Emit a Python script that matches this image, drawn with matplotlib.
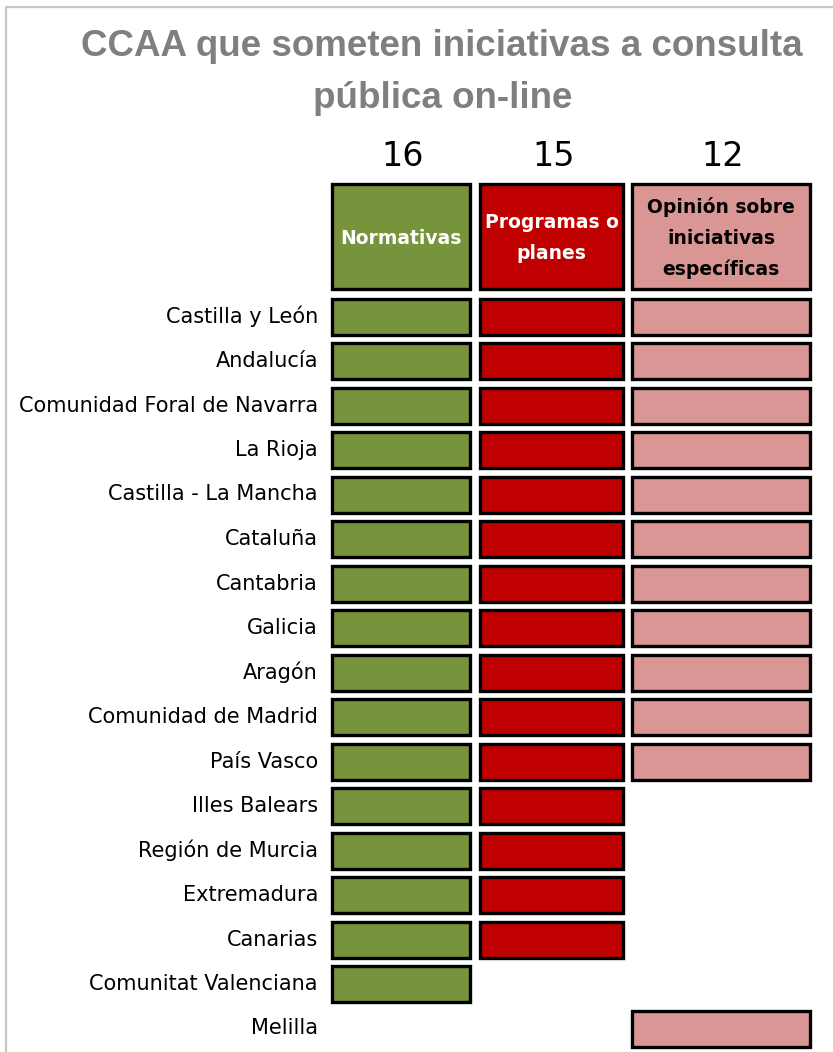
import matplotlib
matplotlib.use("Agg")
import matplotlib.pyplot as plt
from matplotlib.patches import Rectangle

plt.rcParams['font.family'] = ['DejaVu Sans']

regions = ["Castilla y León", "Andalucía", "Comunidad Foral de Navarra", "La Rioja",
           "Castilla - La Mancha", "Cataluña", "Cantabria", "Galicia", "Aragón",
           "Comunidad de Madrid", "País Vasco", "Illes Balears", "Región de Murcia",
           "Extremadura", "Canarias", "Comunitat Valenciana", "Melilla"]
normativas = [1, 1, 1, 1, 1, 1, 1, 1, 1, 1, 1, 1, 1, 1, 1, 1, 0]
programas = [1, 1, 1, 1, 1, 1, 1, 1, 1, 1, 1, 1, 1, 1, 1, 0, 0]
opinion = [1, 1, 1, 1, 1, 1, 1, 1, 1, 1, 1, 0, 0, 0, 0, 0, 1]
categories = ["Normativas", "Programas o\nplanes", "Opinión sobre\niniciativas\nespecíficas"]

series = [normativas, programas, opinion]
colors = ["#77933C", "#C00000", "#D99694"]
text_colors = ["white", "white", "black"]
col_left = [332, 480, 632]
col_width = [138, 143, 178]

W, H = 833, 1052
fig = plt.figure(figsize=(W / 100, H / 100), dpi=100)
ax = fig.add_axes([0, 0, 1, 1])
ax.set_xlim(0, W)
ax.set_ylim(H, 0)
ax.axis("off")

# marco gris
ax.plot([6, 6, W], [H, 7, 7], color="#c8c8c8", lw=1.6)

title_font = dict(family="Liberation Sans", fontsize=26.5, fontweight="bold", color="#7f7f7f")
ax.text(442, 47, "CCAA que someten iniciativas a consulta", ha="center", va="center", **title_font)
ax.text(443, 98, "pública on-line", ha="center", va="center", **title_font)

row0, pitch, bar_h = 316.5, 44.5, 36
for j, vals in enumerate(series):
    cx = col_left[j] + col_width[j] / 2
    ax.text(cx + 2, 157, str(sum(vals)), ha="center", va="center", fontsize=24, color="black")
    ax.add_patch(Rectangle((col_left[j], 184), col_width[j], 105, facecolor=colors[j],
                           edgecolor="black", lw=2.4))
    ax.text(cx, 238, categories[j], ha="center", va="center", fontsize=13.5,
            fontweight="bold", color=text_colors[j], linespacing=1.75)
    rows = [i for i, v in enumerate(vals) if v]
    ax.barh([row0 + i * pitch for i in rows], col_width[j], left=col_left[j], height=bar_h,
            color=colors[j], edgecolor="black", lw=2.4)

for i, name in enumerate(regions):
    ax.text(318, row0 + i * pitch, name, ha="right", va="center", fontsize=15, color="black")

fig.savefig("out.png", dpi=100)
